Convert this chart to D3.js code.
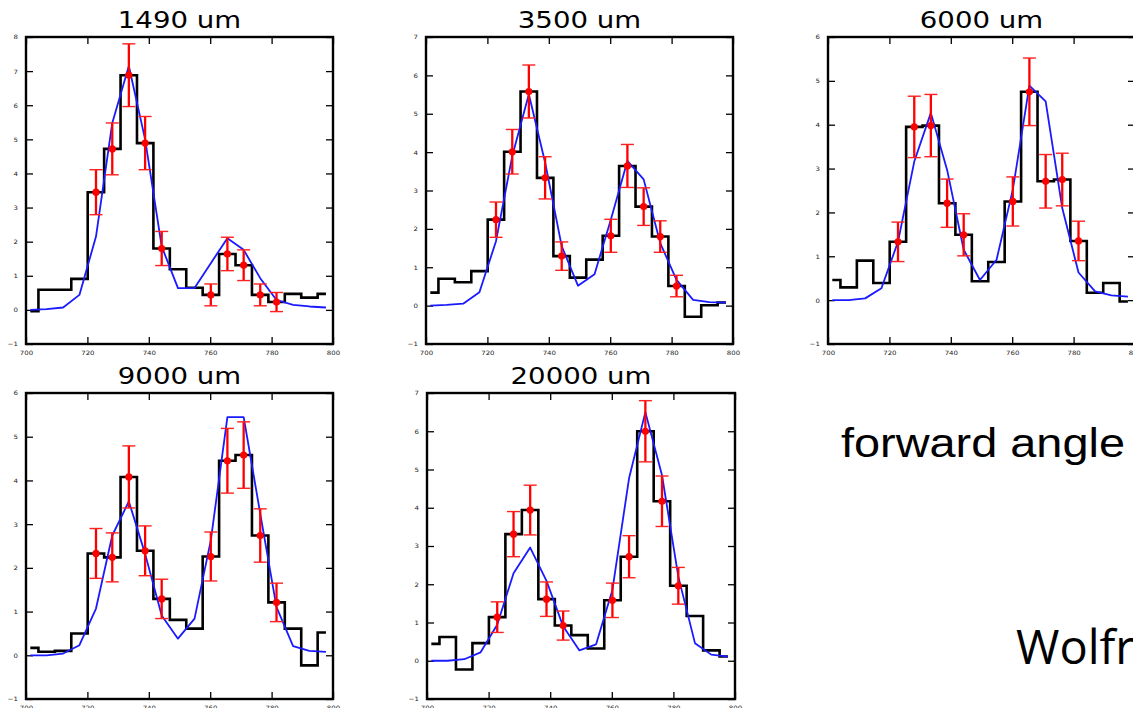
<!DOCTYPE html>
<html>
<head>
<meta charset="utf-8">
<script src="https://cdn.jsdelivr.net/npm/d3@7"></script>
<style>
  html, body { margin: 0; padding: 0; background: #fff; overflow: hidden; }
  svg { display: block; }
</style>
</head>
<body>
<script>
// Energy bin centres shared by all spectra (x axis, 700–800)
const binCenters = [701.4, 706.7, 712.1, 717.4, 722.8, 728.1, 733.5, 738.8, 744.2, 749.5,
                    754.9, 760.2, 765.6, 770.9, 776.3, 781.6, 787.0, 792.3, 797.7];
// bins that carry a measured point with error bar
const pointBins = [4, 5, 6, 7, 8, 11, 12, 13, 14, 15];

const titles = ["1490 um", "3500 um", "6000 um", "9000 um", "20000 um"];
const xTicks = [700, 720, 740, 760, 780, 800];
const yTicks1490 = [-1, 0, 1, 2, 3, 4, 5, 6, 7, 8];
const yTicks3500 = [-1, 0, 1, 2, 3, 4, 5, 6, 7];
const yTicks6000 = [-1, 0, 1, 2, 3, 4, 5, 6];
const yTicks9000 = [-1, 0, 1, 2, 3, 4, 5, 6];
const yTicks20000 = [-1, 0, 1, 2, 3, 4, 5, 6, 7];

// measured histograms (black steps)
const hist1490  = [-0.04, 0.59, 0.59, 0.91, 3.45, 4.72, 6.88, 4.89, 1.80, 1.19, 0.65, 0.44, 1.64, 1.31, 0.44, 0.23, 0.47, 0.36, 0.47];
const hist3500  = [0.34, 0.70, 0.61, 0.90, 2.24, 4.01, 5.58, 3.33, 1.29, 0.73, 1.20, 1.82, 3.64, 2.58, 1.80, 0.51, -0.29, 0.01, 0.08];
const hist6000  = [0.46, 0.29, 0.90, 0.39, 1.33, 3.95, 3.98, 2.21, 1.49, 0.43, 0.87, 2.25, 4.75, 2.71, 2.75, 1.35, 0.17, 0.39, -0.03];
const hist9000  = [0.17, 0.08, 0.10, 0.50, 2.33, 2.24, 4.08, 2.39, 1.29, 0.81, 0.61, 2.26, 4.45, 4.58, 2.74, 1.21, 0.61, -0.23, 0.52];
const hist20000 = [0.44, 0.62, -0.23, 0.46, 1.14, 3.31, 3.94, 1.61, 0.92, 0.67, 0.32, 1.58, 2.72, 6.00, 4.17, 1.96, 1.17, 0.27, 0.11];

// model curves (blue)
const model1490  = [0.00, 0.02, 0.07, 0.44, 2.15, 5.48, 7.15, 5.00, 1.86, 0.64, 0.64, 1.37, 2.10, 1.76, 0.93, 0.29, 0.15, 0.10, 0.07];
const model3500  = [0.00, 0.02, 0.05, 0.35, 1.68, 3.90, 5.51, 3.73, 1.55, 0.52, 0.82, 2.24, 3.77, 3.29, 1.63, 0.67, 0.15, 0.09, 0.08];
const model6000  = [0.00, 0.00, 0.04, 0.27, 1.33, 3.16, 4.27, 2.97, 1.15, 0.46, 0.92, 2.52, 4.89, 4.53, 2.10, 0.63, 0.20, 0.11, 0.08];
const model9000  = [0.00, 0.00, 0.04, 0.23, 1.07, 2.74, 3.52, 2.32, 0.91, 0.38, 0.84, 2.63, 5.45, 5.45, 3.24, 1.10, 0.21, 0.10, 0.08];
const model20000 = [0.00, 0.00, 0.04, 0.22, 0.94, 2.29, 2.96, 2.09, 0.90, 0.27, 0.43, 1.85, 4.77, 6.50, 4.85, 2.20, 0.46, 0.16, 0.11];

// errors on the measured points (same order as pointBins)
const err1490  = [0.66, 0.76, 0.92, 0.78, 0.50, 0.32, 0.49, 0.45, 0.32, 0.28];
const err3500  = [0.46, 0.58, 0.69, 0.55, 0.37, 0.43, 0.56, 0.49, 0.41, 0.28];
const err6000  = [0.45, 0.70, 0.71, 0.55, 0.48, 0.56, 0.77, 0.61, 0.60, 0.45];
const err9000  = [0.57, 0.56, 0.71, 0.57, 0.45, 0.56, 0.74, 0.76, 0.61, 0.44];
const err20000 = [0.40, 0.59, 0.65, 0.45, 0.38, 0.45, 0.55, 0.80, 0.66, 0.48];

const panels = [
  { title: titles[0], hist: hist1490,  model: model1490,  err: err1490,  yTicks: yTicks1490 },
  { title: titles[1], hist: hist3500,  model: model3500,  err: err3500,  yTicks: yTicks3500 },
  { title: titles[2], hist: hist6000,  model: model6000,  err: err6000,  yTicks: yTicks6000 },
  { title: titles[3], hist: hist9000,  model: model9000,  err: err9000,  yTicks: yTicks9000 },
  { title: titles[4], hist: hist20000, model: model20000, err: err20000, yTicks: yTicks20000 }
];

// placement of each axes box on the page
const boxes = [
  { left: 26,  top: 37,  w: 307, h: 307 },
  { left: 426, top: 37,  w: 307, h: 307 },
  { left: 828, top: 37,  w: 307, h: 307 },
  { left: 26,  top: 393, w: 307, h: 306 },
  { left: 427, top: 393, w: 308, h: 306 }
];

const W = 1133, H = 708;
const SX = 1.165;   // horizontal stretch of all lettering

const svg = d3.select("body").append("svg")
  .attr("width", W).attr("height", H)
  .attr("viewBox", `0 0 ${W} ${H}`);

panels.forEach((p, i) => {
  const b = boxes[i];
  const yExt = d3.extent(p.yTicks);
  const x = d3.scaleLinear().domain([700, 800]).range([0, b.w]);
  const y = d3.scaleLinear().domain(yExt).range([b.h, 0]);

  const g = svg.append("g").attr("transform", `translate(${b.left},${b.top})`);

  // ticks on all four sides, pointing inward
  const tickLen = 7;
  const axB = g.append("g").attr("transform", `translate(0,${b.h})`)
    .call(d3.axisBottom(x).tickValues(xTicks).tickSize(-tickLen).tickPadding(7).tickFormat(d3.format("d")));
  const axT = g.append("g")
    .call(d3.axisTop(x).tickValues(xTicks).tickSize(-tickLen).tickFormat(""));
  const axL = g.append("g")
    .call(d3.axisLeft(y).tickValues(p.yTicks).tickSize(-tickLen).tickPadding(7)
      .tickFormat(d => d < 0 ? "\u2212" + Math.abs(d) : String(d)));
  const axR = g.append("g").attr("transform", `translate(${b.w},0)`)
    .call(d3.axisRight(y).tickValues(p.yTicks).tickSize(-tickLen).tickFormat(""));

  [axB, axT, axL, axR].forEach(a => {
    a.select(".domain").remove();
    a.selectAll(".tick line").attr("stroke", "#000").attr("stroke-width", 1.3);
    a.selectAll(".tick text")
      .attr("font-family", "DejaVu Sans")
      .attr("font-size", 6)
      .attr("fill", "#222");
  });
  axB.selectAll(".tick text").attr("transform", `scale(${SX},1)`);
  axL.selectAll(".tick text").attr("transform", `scale(${SX},1)`);

  // measured histogram as steps centred on bins
  const stepLine = d3.line()
    .x((d, k) => x(binCenters[k]))
    .y(d => y(d))
    .curve(d3.curveStep);
  g.append("path")
    .attr("d", stepLine(p.hist))
    .attr("fill", "none")
    .attr("stroke", "#000")
    .attr("stroke-width", 2.6)
    .attr("stroke-linejoin", "miter");

  // model curve
  const modelLine = d3.line()
    .x((d, k) => x(binCenters[k]))
    .y(d => y(d));
  g.append("path")
    .attr("d", modelLine(p.model))
    .attr("fill", "none")
    .attr("stroke", "#1a1aff")
    .attr("stroke-width", 1.8)
    .attr("stroke-linejoin", "round");

  // measured points with error bars
  const pts = pointBins.map((bi, k) => ({ x: binCenters[bi], v: p.hist[bi], e: p.err[k] }));
  const eg = g.append("g").selectAll("g").data(pts).join("g");
  eg.append("line")
    .attr("x1", d => x(d.x)).attr("x2", d => x(d.x))
    .attr("y1", d => y(d.v + d.e)).attr("y2", d => y(d.v - d.e))
    .attr("stroke", "#ff0000").attr("stroke-width", 2.3);
  [1, -1].forEach(s => {
    eg.append("line")
      .attr("x1", d => x(d.x) - 6.5).attr("x2", d => x(d.x) + 6.5)
      .attr("y1", d => y(d.v + s * d.e)).attr("y2", d => y(d.v + s * d.e))
      .attr("stroke", "#ff2020").attr("stroke-width", 1.4);
  });
  eg.append("circle")
    .attr("cx", d => x(d.x)).attr("cy", d => y(d.v))
    .attr("r", 3.6).attr("fill", "#ff0000");

  // frame
  g.append("rect")
    .attr("x", 0).attr("y", 0).attr("width", b.w).attr("height", b.h)
    .attr("fill", "none").attr("stroke", "#000").attr("stroke-width", 2.4);

  // title
  svg.append("text")
    .attr("transform", `translate(${b.left + b.w / 2},${b.top - 9}) scale(${SX},1)`)
    .attr("text-anchor", "middle")
    .attr("font-family", "DejaVu Sans")
    .attr("font-size", 23.7)
    .attr("fill", "#000")
    .text(p.title);
});

// side annotations
svg.append("text")
  .attr("transform", `translate(841,457) scale(1.172,1)`)
  .attr("font-family", "Liberation Sans, Arial, sans-serif")
  .attr("font-size", 40)
  .attr("fill", "#000")
  .text("forward angle");

svg.append("text")
  .attr("transform", `translate(1016,664) scale(1.0,1)`)
  .attr("font-family", "Open Sans, sans-serif")
  .attr("font-size", 47)
  .attr("fill", "#000")
  .text("Wolfr");
</script>
</body>
</html>
